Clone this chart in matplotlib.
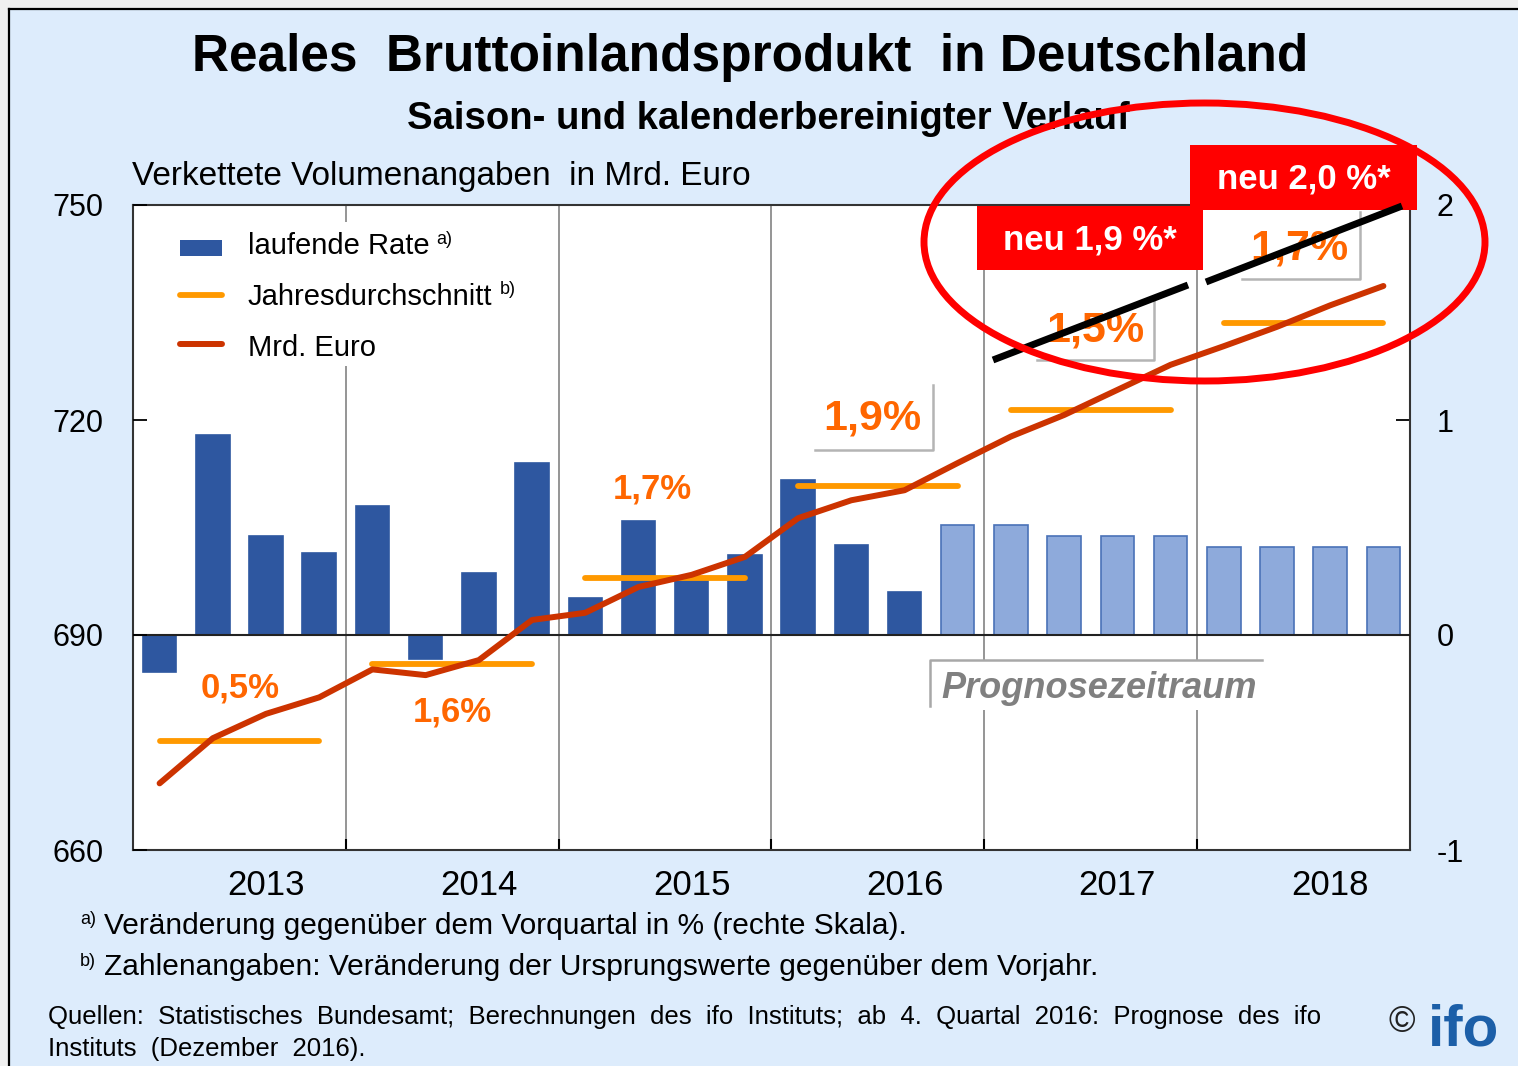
import matplotlib
matplotlib.use("Agg")
import matplotlib.pyplot as plt
from matplotlib.patches import Rectangle, Ellipse
from matplotlib.lines import Line2D

plt.rcParams['font.family'] = ['Liberation Sans', 'DejaVu Sans']

# ---------------- data ----------------
years = ['2013', '2014', '2015', '2016', '2017', '2018']
quarterly_rate = [-0.17, 0.93, 0.46, 0.38,
                  0.60, -0.11, 0.29, 0.80,
                  0.17, 0.53, 0.26, 0.37,
                  0.72, 0.42, 0.20, 0.51,
                  0.51, 0.46, 0.46, 0.46,
                  0.41, 0.41, 0.41, 0.41]
forecast_start = 15  # index of 2016 Q4
gdp_bn = [669.3, 675.6, 679.0, 681.3,
          685.2, 684.4, 686.5, 692.1,
          693.1, 696.7, 698.4, 700.9,
          706.3, 708.8, 710.2, 714.0,
          717.7, 720.7, 724.2, 727.7,
          730.3, 733.0, 736.0, 738.7]
annual_avg = [675.2, 685.9, 697.9, 710.8, 721.4, 733.5]
annual_labels = ['0,5%', '1,6%', '1,7%', '1,9%', '1,5%', '1,7%']
new_labels = ['neu 1,9 %*', 'neu 2,0 %*']
right_ticks = [-1, 0, 1, 2]
left_ticks = [660, 690, 720, 750]

W, H = 1518, 1066
fig = plt.figure(figsize=(W / 100, H / 100), dpi=100)
fig.patch.set_facecolor('#f0f0f0')


def fx(x):
    return x / W


def fy(y):
    return 1 - y / H


# background panel with black top/left border
fig.add_artist(Rectangle((fx(9), 0), 1 - fx(9), fy(9), transform=fig.transFigure,
                         facecolor='#ddecfc', edgecolor='none', zorder=-10))
fig.add_artist(Line2D([fx(8.5), fx(8.5)], [0, fy(8.5)], transform=fig.transFigure,
                      color='black', lw=1.6, zorder=-9))
fig.add_artist(Line2D([fx(8.5), 1], [fy(8.5), fy(8.5)], transform=fig.transFigure,
                      color='black', lw=1.6, zorder=-9))

# ---------------- axes ----------------
L, R, T, B = 133, 1410, 205, 850
ax = fig.add_axes([fx(L), fy(B), (R - L) / W, (B - T) / H])
ax2 = ax.twinx()
ax.set_facecolor('white')
n = len(quarterly_rate)
xs = list(range(n))
colors = ['#2e57a0' if i < forecast_start else '#8eaadb' for i in xs]
edges = ['#2e57a0' if i < forecast_start else '#4a72b8' for i in xs]
ax.bar(xs, quarterly_rate, width=0.63, color=colors, edgecolor=edges, linewidth=1.2, zorder=2)
ax.axhline(0, color='#222222', lw=1.5, zorder=3)
for b in range(1, len(years)):
    ax.axvline(4 * b - 0.5, color='#8c8c8c', lw=1.3, zorder=0.5)
ax.set_xlim(-0.5, n - 0.5)
ax.set_ylim(-1, 2)
ax.yaxis.tick_right()
ax.set_yticks(right_ticks)
ax.set_yticklabels([str(v) for v in right_ticks])
ax.tick_params(axis='y', direction='in', length=10, width=1.3, pad=19, labelsize=22,
               left=False, labelleft=False, right=True, labelright=True)
ax.set_xticks([4 * i + 2 for i in range(len(years))])
ax.set_xticklabels(years)
ax.tick_params(axis='x', which='major', length=0, pad=14, labelsize=25)
ax.set_xticks([4 * b - 0.5 for b in range(1, len(years))], minor=True)
ax.tick_params(axis='x', which='minor', direction='in', length=8, width=1.5, color='black')
for s in ax.spines.values():
    s.set_color('#333333')
    s.set_linewidth(1.5)

ax2.set_ylim(660, 750)
ax2.set_yticks(left_ticks)
ax2.set_yticklabels([str(v) for v in left_ticks])
ax2.tick_params(axis='y', direction='in', length=10, width=1.3, pad=21.5, labelsize=22,
                left=True, labelleft=True, right=False, labelright=False)
for s in ax2.spines.values():
    s.set_visible(False)
for i, v in enumerate(annual_avg):
    ax2.plot([4 * i, 4 * i + 3], [v, v], color='#ff9900', lw=4.2,
             solid_capstyle='round', zorder=3)
ax2.plot(xs, gdp_bn, color='#cc3300', lw=4.3, solid_capstyle='round',
         solid_joinstyle='round', zorder=4)

# ---------------- legend (manual) ----------------
fig.add_artist(Rectangle((fx(165), fy(366)), fx(540) - fx(165), fy(222) - fy(366),
                         transform=fig.transFigure, facecolor='white', edgecolor='none', zorder=1))
fig.add_artist(Rectangle((fx(180), fy(256)), fx(222) - fx(180), fy(240) - fy(256),
                         transform=fig.transFigure, facecolor='#2e57a0', edgecolor='none', zorder=2))
fig.add_artist(Line2D([fx(180), fx(222)], [fy(295), fy(295)], transform=fig.transFigure,
                      color='#ff9900', lw=4.2, solid_capstyle='round', zorder=2))
fig.add_artist(Line2D([fx(180), fx(222)], [fy(344), fy(344)], transform=fig.transFigure,
                      color='#cc3300', lw=4.3, solid_capstyle='round', zorder=2))

leg_items = [('laufende Rate', 'a)', 246), ('Jahresdurchschnitt', 'b)', 297), ('Mrd. Euro', None, 348)]
fig.canvas.draw()
renderer = fig.canvas.get_renderer()
for txt, sup, yy in leg_items:
    t = fig.text(fx(248), fy(yy), txt, fontsize=21, ha='left', va='center', zorder=3)
    if sup:
        bb = t.get_window_extent(renderer)
        fig.text((bb.x1 + 7) / W, fy(yy - 7), sup, fontsize=13, ha='left', va='center', zorder=3)

# ---------------- titles ----------------
fig.text(fx(750), fy(58), 'Reales  Bruttoinlandsprodukt  in Deutschland', fontsize=37,
         fontweight='bold', ha='center', va='center')
fig.text(fx(768), fy(119), 'Saison- und kalenderbereinigter Verlauf', fontsize=27.5,
         fontweight='bold', ha='center', va='center')
fig.text(fx(132), fy(177), 'Verkettete Volumenangaben  in Mrd. Euro', fontsize=24,
         ha='left', va='center')

# ---------------- annual labels ----------------
lab_pos = [(240, 688, 25), (452, 712, 25), (652, 489, 25), (872, 419, 31), (1095, 330, 31), (1299, 248, 31)]
for (x, y, fs), lab in zip(lab_pos, annual_labels):
    fig.text(fx(x), fy(y), lab, fontsize=fs, fontweight='bold', color='#ff6600',
             ha='center', va='center', zorder=3)

# shadow boxes (right & bottom edges)
for (x0, x1, y0, y1) in [(815, 933, 385, 450), (1037, 1154, 300, 360), (1242, 1360, 212, 279)]:
    fig.add_artist(Line2D([fx(x0), fx(x1), fx(x1)], [fy(y1), fy(y1), fy(y0)],
                          transform=fig.transFigure, color='#b4b4b4', lw=1.8, zorder=2))

# Prognosezeitraum box
fig.add_artist(Rectangle((fx(930), fy(710)), fx(1265) - fx(930), fy(660) - fy(710),
                         transform=fig.transFigure, facecolor='white', edgecolor='none', zorder=1))
fig.add_artist(Line2D([fx(930), fx(930), fx(1262)], [fy(706), fy(660), fy(660)],
                      transform=fig.transFigure, color='#a8a8a8', lw=1.8, zorder=2))
fig.text(fx(1099), fy(689), 'Prognosezeitraum', fontsize=26, fontweight='bold', fontstyle='italic',
         color='#808080', ha='center', va='center', zorder=3)

# ---------------- red annotation ----------------
for (x0, x1, y0, y1), lab in zip([(977, 1203, 206, 270), (1190, 1417, 145, 210)], new_labels):
    fig.add_artist(Rectangle((fx(x0), fy(y1)), fx(x1) - fx(x0), fy(y0) - fy(y1),
                             transform=fig.transFigure, facecolor='#ff0000', edgecolor='none', zorder=5))
    fig.text(fx((x0 + x1) / 2), fy((y0 + y1) / 2 + 2), lab, fontsize=25, fontweight='bold',
             color='white', ha='center', va='center', zorder=6)

for (xa, ya, xb, yb) in [(993, 360, 1188, 285), (1206, 282, 1402, 206)]:
    fig.add_artist(Line2D([fx(xa), fx(xb)], [fy(ya), fy(yb)], transform=fig.transFigure,
                          color='black', lw=5, solid_capstyle='butt', zorder=7))

fig.add_artist(Ellipse((fx(1204.5), fy(242)), 561 / W, 278 / H, transform=fig.transFigure,
                       fill=False, edgecolor='#ff0000', lw=5, zorder=8))

# ---------------- footnotes ----------------
fig.text(fx(80), fy(920), 'a)', fontsize=13, ha='left', va='center')
fig.text(fx(104), fy(926), 'Veränderung gegenüber dem Vorquartal in % (rechte Skala).', fontsize=21.5,
         ha='left', va='center')
fig.text(fx(80), fy(961), 'b)', fontsize=13, ha='left', va='center')
fig.text(fx(104), fy(967), 'Zahlenangaben: Veränderung der Ursprungswerte gegenüber dem Vorjahr.',
         fontsize=21.5, ha='left', va='center')
fig.text(fx(48), fy(1017), 'Quellen:  Statistisches  Bundesamt;  Berechnungen  des  ifo  Instituts;  '
         'ab  4.  Quartal  2016:  Prognose  des  ifo', fontsize=18.5, ha='left', va='center')
fig.text(fx(48), fy(1049), 'Instituts  (Dezember  2016).', fontsize=18.5, ha='left', va='center')

fig.text(fx(1402), fy(1023), '©', fontsize=26, ha='center', va='center', color='#222222')
fig.text(fx(1464), fy(1030), 'ifo', fontsize=42, fontweight='bold', color='#1c5fa8',
         ha='center', va='center')

fig.savefig('out.png', dpi=100, facecolor=fig.get_facecolor())
